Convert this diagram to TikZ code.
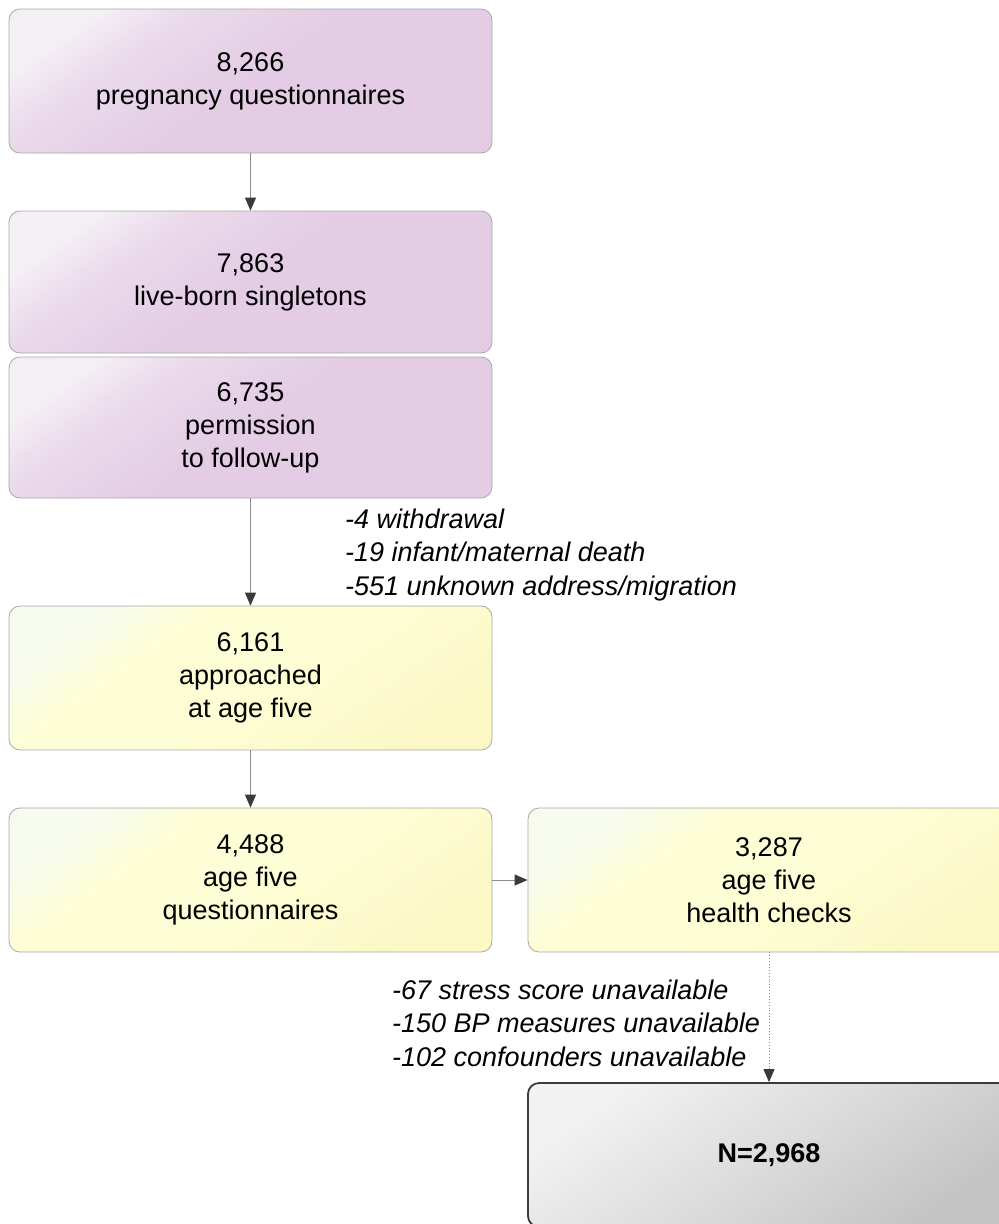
\documentclass[tikz,border=0pt]{standalone}
\usepackage{fontspec}
\setmainfont{Liberation Sans}
\usetikzlibrary{arrows.meta}
\definecolor{pl}{HTML}{F4EEF5}
\definecolor{pm}{HTML}{EADAEB}
\definecolor{pd}{HTML}{E3CCE4}
\definecolor{yl}{HTML}{F7FBEE}
\definecolor{ym}{HTML}{FEFED6}
\definecolor{yd}{HTML}{FBF8C6}
\definecolor{gl}{HTML}{F2F2F2}
\definecolor{gm}{HTML}{DCDCDC}
\definecolor{gd}{HTML}{C4C4C4}
\definecolor{bord}{HTML}{A8A8A8}
\definecolor{nbord}{HTML}{3C3C3C}
\definecolor{linegray}{HTML}{8C8C8C}
\definecolor{tipdark}{HTML}{3A3A3A}
\pgfdeclareverticalshading{purpsh}{100bp}{color(0bp)=(pd); color(25bp)=(pd); color(50bp)=(pd); color(66bp)=(pm); color(75bp)=(pl); color(100bp)=(pl)}
\pgfdeclareverticalshading{yelsh}{100bp}{color(0bp)=(yd); color(25bp)=(yd); color(48bp)=(ym); color(64bp)=(ym); color(75bp)=(yl); color(100bp)=(yl)}
\pgfdeclareverticalshading{graysh}{100bp}{color(0bp)=(gd); color(25bp)=(gd); color(50bp)=(gm); color(75bp)=(gl); color(100bp)=(gl)}
\begin{document}
\begin{tikzpicture}[x=1pt,y=-1pt,
  box/.style={rounded corners=11pt, minimum width=483pt, minimum height=144pt, inner sep=0pt,
    align=center, font=\fontsize{27}{33}\selectfont, text=black, draw=bord, line width=0.8pt, shade},
  pbox/.style={box, shading=purpsh, shading angle=35},
  ybox/.style={box, shading=yelsh, shading angle=35},
  nbox/.style={box, shading=graysh, shading angle=35, draw=nbord, line width=1.8pt, font=\fontsize{27}{33}\selectfont\bfseries},
  lbl/.style={align=left, inner sep=0pt, font=\fontsize{27}{33.5}\selectfont\itshape, text=black},
  arr/.style={draw=linegray, line width=0.9pt, -{Triangle[length=13pt,width=11pt,color=tipdark]}},
  darr/.style={draw=linegray, line width=0.9pt, dotted, -{Triangle[length=13pt,width=11pt,color=tipdark]}}
]
\useasboundingbox (0,0) rectangle (999,1224);
\clip (0,0) rectangle (999,1224);
\node[pbox] (b1) at (250.5,81) {8,266\\pregnancy questionnaires};
\node[pbox, minimum height=142pt] (b2) at (250.5,282) {7,863\\live-born singletons};
\node[pbox, minimum height=141pt] (b3) at (250.5,427.5) {6,735\\permission\\to follow-up};
\node[ybox] (b4) at (250.5,678) {6,161\\approached\\at age five};
\node[ybox] (b5) at (250.5,880) {4,488\\age five\\questionnaires};
\node[ybox, minimum width=482pt] (b6) at (769,880) {3,287\\age five\\health checks};
\node[nbox, minimum width=482pt] (nb) at (769,1155) {N=2,968};
\node[lbl, anchor=west] (l1) at (345,555) {-4 withdrawal\\-19 infant/maternal death\\-551 unknown address/migration};
\node[lbl, anchor=west] (l2) at (392,1023) {-67 stress score unavailable\\-150 BP measures unavailable\\-102 confounders unavailable};
\draw[arr] (b1) -- (b2);
\draw[arr] (b3) -- (b4);
\draw[arr] (b4) -- (b5);
\draw[arr] (b5) -- (b6);
\draw[darr] (b6) -- (nb);
\end{tikzpicture}
\end{document}
